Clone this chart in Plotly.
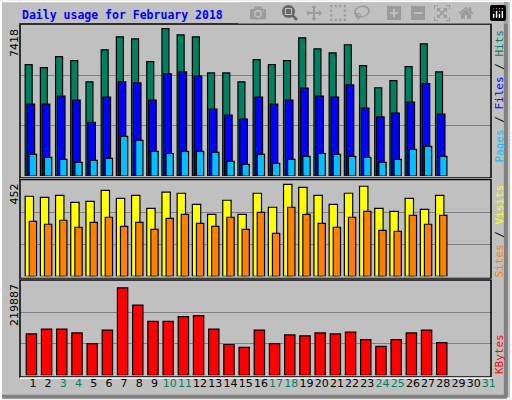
import plotly.graph_objects as go

days = list(range(1, 32))
data_days = list(range(1, 29))
weekend = [3, 4, 10, 11, 17, 18, 24, 25, 31]

hits = [5490, 5340, 5880, 5690, 4640, 6220, 6860, 6760, 5640, 7260, 6960, 6860,
        5080, 5080, 4640, 5740, 5490, 5690, 6810, 6270, 6070, 6470, 5440, 4350,
        4700, 5390, 6510, 5130]
files = [3540, 3540, 3940, 3740, 2650, 3890, 4640, 4590, 3740, 5030, 5130, 4930,
         3300, 3000, 2800, 3890, 3540, 3740, 4330, 3940, 3890, 4490, 3350, 2910,
         3100, 3640, 4550, 3050]
pages = [1070, 920, 820, 670, 770, 870, 1950, 1760, 1210, 1110, 1210, 1210,
         1160, 720, 570, 1070, 620, 820, 970, 1110, 1070, 970, 920, 670,
         820, 1310, 1460, 970]
visits = [377, 372, 381, 348, 353, 405, 367, 381, 320, 396, 391, 339,
          292, 358, 292, 391, 325, 433, 419, 381, 339, 391, 424, 320,
          306, 367, 315, 381]
sites = [259, 245, 264, 231, 254, 278, 235, 254, 221, 273, 292, 249,
         235, 278, 221, 301, 202, 325, 292, 249, 231, 278, 306, 216,
         212, 287, 245, 287]
kbytes = [96500, 107700, 107700, 98700, 74000, 105500, 204000, 163600, 125700,
          125700, 136900, 139100, 107700, 71800, 65000, 105500, 74000, 94200,
          92000, 98700, 96500, 101000, 83000, 67300, 83000, 98700, 105500, 76300]

HITS, FILES, PAGES = "#008060", "#0000FF", "#00C0FF"
VISITS, SITES, KB = "#FFFF00", "#FF8000", "#FF0000"
BG = "#C0C0C0"


def ypaper(px):
    return 1 - px / 400


fig = go.Figure()


def bars(vals, color, off, w, n):
    fig.add_trace(go.Bar(
        x=data_days, y=vals, offset=off, width=w,
        marker=dict(color=color, line=dict(color="black", width=1.2)),
        xaxis="x" if n == 1 else f"x{n}", yaxis="y" if n == 1 else f"y{n}",
        hoverinfo="y", showlegend=False))


bars(hits, HITS, -0.51, 0.46, 1)
bars(files, FILES, -0.39, 0.5, 1)
bars(pages, PAGES, -0.24, 0.48, 1)
bars(visits, VISITS, -0.51, 0.55, 2)
bars(sites, SITES, -0.24, 0.48, 2)
bars(kbytes, KB, -0.44, 0.68, 3)

xr = [0.15, 31.14]
xdom = [20 / 512, 491 / 512]
panels = [(7418, 25.5, 176), (452, 180.3, 276.3), (219887, 281, 375.3)]

layout = dict(
    width=512, height=400, margin=dict(l=0, r=0, t=0, b=0),
    paper_bgcolor=BG, plot_bgcolor=BG, barmode="overlay", showlegend=False,
    font=dict(family="DejaVu Sans", size=11, color="black"),
)
for i, (mx, top, bot) in enumerate(panels, start=1):
    sfx = "" if i == 1 else str(i)
    layout["xaxis" + sfx] = dict(
        domain=xdom, range=xr, anchor="y" + sfx, showgrid=False,
        zeroline=False, showticklabels=(i == 3), ticks="", tickangle=0,
        automargin=False,
        tickvals=days if i == 3 else None,
        ticktext=[(f"<span style='color:{HITS}'>{d}</span>" if d in weekend else str(d))
                  for d in days] if i == 3 else None,
        tickfont=dict(size=11, family="DejaVu Sans"),
    )
    layout["yaxis" + sfx] = dict(
        domain=[ypaper(bot), ypaper(top)], range=[0, mx], anchor="x" + sfx,
        tick0=0, dtick=mx / 3, showgrid=True, gridcolor="#808080",
        gridwidth=1, zeroline=False, showticklabels=False,
    )
fig.update_layout(**layout)

shapes = [
    # outer bevel
    dict(type="rect", xref="paper", yref="paper", x0=0.002, x1=0.998, y0=0.003, y1=0.997,
         line=dict(color="white", width=2)),
    dict(type="line", xref="paper", yref="paper", x0=0.988, x1=0.988, y0=0.008, y1=0.995,
         line=dict(color="#808080", width=4)),
    dict(type="line", xref="paper", yref="paper", x0=0.004, x1=0.99, y0=0.008, y1=0.008,
         line=dict(color="#808080", width=4)),
]
frames = [(24, 178), (179.5, 278.5), (280, 377)]
for t, b in frames:
    shapes.append(dict(type="rect", xref="paper", yref="paper",
                       x0=20 / 512, x1=491 / 512, y0=ypaper(b), y1=ypaper(t),
                       line=dict(color="black", width=1.5)))
    shapes.append(dict(type="line", xref="paper", yref="paper",
                       x0=20 / 512, x1=492 / 512, y0=ypaper(b + 1), y1=ypaper(b + 1),
                       line=dict(color="white", width=1.5)))
fig.update_layout(shapes=shapes)

ann = [
    dict(text="<b>Daily usage for February 2018</b>", x=20 / 512, y=ypaper(15),
         xanchor="left", yanchor="middle",
         font=dict(family="DejaVu Sans Mono", size=11.5, color="#0000FF")),
    dict(text="7418", x=14 / 512, y=ypaper(27), xanchor="center", yanchor="top", textangle=-90),
    dict(text="452", x=14 / 512, y=ypaper(182), xanchor="center", yanchor="top", textangle=-90),
    dict(text="219887", x=14 / 512, y=ypaper(282), xanchor="center", yanchor="top", textangle=-90),
    dict(text=f"<span style='color:{PAGES}'>Pages</span> / <span style='color:{FILES}'>Files</span>"
              f" / <span style='color:{HITS}'>Hits</span>",
         x=499 / 512, y=ypaper(28), xanchor="center", yanchor="top", textangle=-90,
         font=dict(family="DejaVu Sans Mono", size=11)),
    dict(text=f"<span style='color:{SITES}'>Sites</span> / <span style='color:{VISITS}'>Visits</span>",
         x=499 / 512, y=ypaper(183), xanchor="center", yanchor="top", textangle=-90,
         font=dict(family="DejaVu Sans Mono", size=11)),
    dict(text="KBytes", x=499 / 512, y=ypaper(376), xanchor="center", yanchor="bottom", textangle=-90,
         font=dict(family="DejaVu Sans Mono", size=11, color=KB)),
]
for a in ann:
    a.update(xref="paper", yref="paper", showarrow=False)
fig.update_layout(annotations=ann)

fig.write_html("out.html")

# drop the default page margin so the 512x400 figure fits the window
with open("out.html", encoding="utf-8") as f:
    html = f.read()
html = html.replace("<body>", "<body style=\"margin:0;overflow:hidden\">", 1)
with open("out.html", "w", encoding="utf-8") as f:
    f.write(html)
